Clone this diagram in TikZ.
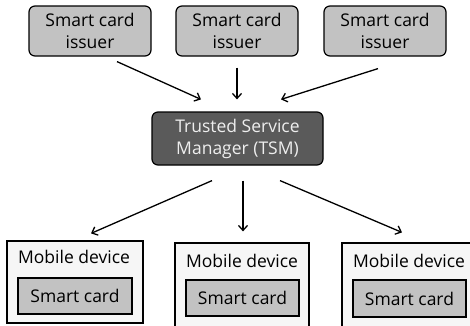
\documentclass[tikz,border=0pt]{standalone}
\usepackage{fontspec}
\setmainfont{Open Sans}
\usetikzlibrary{arrows.meta}
\definecolor{issuerfill}{HTML}{C2C2C2}
\definecolor{tsmfill}{HTML}{5A5A5A}
\definecolor{tsmtext}{HTML}{EEEEEE}
\definecolor{devfill}{HTML}{F6F6F6}
\tikzset{
  issuerbox/.style={draw, line width=1.2pt, rounded corners=6pt, fill=issuerfill,
    minimum width=122pt, minimum height=50pt, align=center, inner sep=0pt,
    font=\fontsize{17.5}{22}\selectfont},
  tsmbox/.style={draw, line width=1.2pt, rounded corners=6pt, fill=tsmfill, text=tsmtext,
    minimum width=171pt, minimum height=53pt, align=center, inner sep=0pt,
    font=\fontsize{17.5}{22}\selectfont},
  devbox/.style={draw, line width=1.2pt, fill=devfill, inner sep=0pt},
  cardbox/.style={draw, line width=1.2pt, fill=issuerfill, inner sep=0pt,
    font=\fontsize{17.5}{18}\selectfont},
  devlabel/.style={inner sep=0pt, font=\fontsize{17.5}{18}\selectfont},
  arr/.style={line width=1.3pt, -{Straight Barb[length=5pt,width=9pt]}}
}
\begin{document}
\begin{tikzpicture}[x=1pt,y=-1pt]
\useasboundingbox (0,0) rectangle (470,325);
% issuers
\node[issuerbox] (i1) at (90,31) {Smart card\\issuer};
\node[issuerbox] (i2) at (237,31) {Smart card\\issuer};
\node[issuerbox] (i3) at (385,31) {Smart card\\issuer};
% TSM
\node[tsmbox] (tsm) at (237.5,138.5) {Trusted Service\\Manager (TSM)};
% mobile devices
\node[devbox, minimum width=136pt, minimum height=82pt] (m1) at (75,282) {};
\node[devbox, minimum width=134pt, minimum height=94pt] (m2) at (242,290) {};
\node[devbox, minimum width=136pt, minimum height=94pt] (m3) at (410,290) {};
\node[devlabel] (l1) at (74,257) {Mobile device};
\node[devlabel] (l2) at (242,261) {Mobile device};
\node[devlabel] (l3) at (409,261) {Mobile device};
\node[cardbox, minimum width=114pt, minimum height=36pt] (c1) at (75,296) {Smart card};
\node[cardbox, minimum width=113pt, minimum height=36pt] (c2) at (242.5,298) {Smart card};
\node[cardbox, minimum width=113pt, minimum height=37pt] (c3) at (409.5,298.5) {Smart card};
% arrows in
\draw[arr] ([shift={(27,5)}]i1.south) -- ([shift={(-36.5,-12)}]tsm.north);
\draw[arr] ([shift={(0,11)}]i2.south) -- ([shift={(-0.5,-12)}]tsm.north);
\draw[arr] ([shift={(-7,12)}]i3.south) -- ([shift={(43.5,-12)}]tsm.north);
% arrows out
\draw[arr] ([shift={(-25.5,15)}]tsm.south) -- ([shift={(16,-7)}]m1.north);
\draw[arr] ([shift={(5.5,15)}]tsm.south) -- ([shift={(1,-11)}]m2.north);
\draw[arr] ([shift={(42.5,15)}]tsm.south) -- ([shift={(-8,-10)}]m3.north);
\end{tikzpicture}
\end{document}
